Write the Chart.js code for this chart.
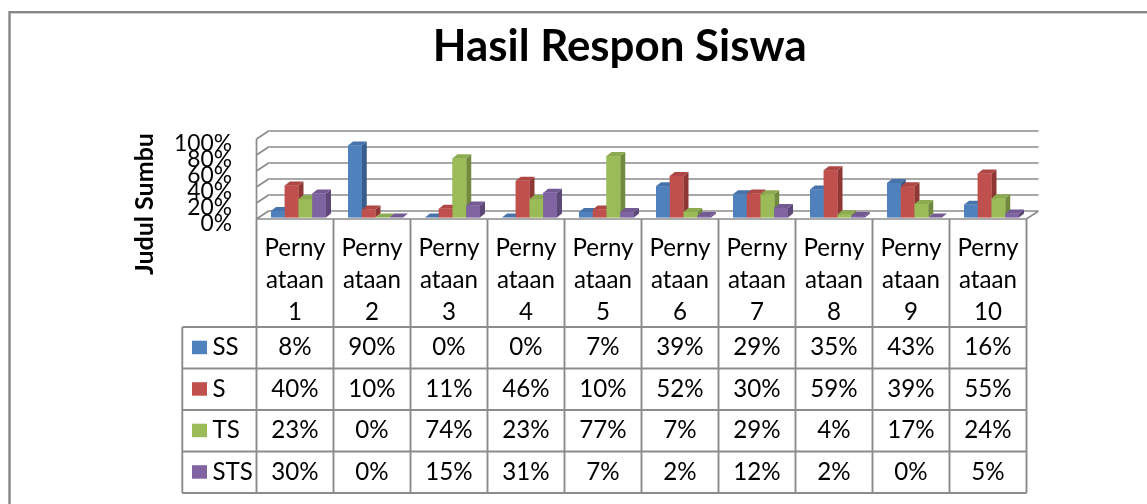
<!DOCTYPE html>
<html><head><meta charset="utf-8">
<script src="https://cdn.jsdelivr.net/npm/chart.js@4.4.1/dist/chart.umd.min.js"></script>
<style>html,body{margin:0;padding:0;background:#fff;overflow:hidden}canvas{display:block}</style>
</head><body>
<canvas id="c" width="1147" height="504"></canvas>
<script>
// ---- data ----
const categories = ['Pernyataan 1','Pernyataan 2','Pernyataan 3','Pernyataan 4','Pernyataan 5',
                    'Pernyataan 6','Pernyataan 7','Pernyataan 8','Pernyataan 9','Pernyataan 10'];
const seriesNames = ['SS','S','TS','STS'];
const ssValues  = [8, 90, 0, 0, 7, 39, 29, 35, 43, 16];
const sValues   = [40, 10, 11, 46, 10, 52, 30, 59, 39, 55];
const tsValues  = [23, 0, 74, 23, 77, 7, 29, 4, 17, 24];
const stsValues = [30, 0, 15, 31, 7, 2, 12, 2, 0, 5];
const yTicks = [0, 20, 40, 60, 80, 100];
const chartTitle = 'Hasil Respon Siswa';
const axisTitle = 'Judul Sumbu';

// ---- styles ----
const seriesValues = [ssValues, sValues, tsValues, stsValues];
const frontColors = ['#4F81BD', '#C0504D', '#9BBB59', '#8064A2'];
const sideColors  = ['#375E8D', '#8E3735', '#718A3E', '#5D4878'];
const topColors   = ['#4773AA', '#AE4744', '#8CAA4F', '#735A93'];
const FAMILY = 'Lato, "Open Sans", "DejaVu Sans", sans-serif';
const GRID = '#8c8c8c';
const FRONT = {dx: -3.5, dy: 1.5};   // front plane offset from bar plane
const BACK  = {dx: 8.5, dy: -6.5};   // back wall offset from bar plane
const DEPTH = {dx: 5, dy: -4};       // bar depth

const mctx = document.createElement('canvas').getContext('2d');
function fit(text, weight, target) {
  mctx.font = weight + ' 100px ' + FAMILY;
  return 100 * target / mctx.measureText(text).width;
}
const titleSize = fit(chartTitle, 'bold', 374);
const axisTitleSize = fit(axisTitle, 'bold', 142);
const tickSize = fit('100%', 'normal', 58);
const tableSize = fit('Perny', 'normal', 61);

function headerLines(label) {
  const [word, num] = label.split(' ');
  return [word.slice(0, 5), word.slice(5), num];
}

const threeD = {
  id: 'threeD',
  beforeDraw(chart) {
    const ctx = chart.ctx;
    ctx.save();
    ctx.fillStyle = '#fff';
    ctx.fillRect(0, 0, chart.width, chart.height);
    ctx.strokeStyle = '#878787';
    ctx.lineWidth = 2.4;
    ctx.strokeRect(9.5, 12.2, 1300, 700);
    ctx.restore();
  },
  beforeDatasetsDraw(chart) {
    const ctx = chart.ctx, ys = chart.scales.y, a = chart.chartArea;
    ctx.save();
    ctx.strokeStyle = GRID;
    ctx.lineWidth = 1.7;
    ctx.beginPath();
    ys.ticks.forEach(t => {
      const p = ys.getPixelForValue(t.value);
      const yb = p + BACK.dy, yf = p + FRONT.dy;
      ctx.moveTo(a.left + BACK.dx, yb); ctx.lineTo(a.right + BACK.dx, yb);
      ctx.moveTo(a.left + FRONT.dx, yf); ctx.lineTo(a.left + BACK.dx, yb);
    });
    const y0 = ys.getPixelForValue(0), y100 = ys.getPixelForValue(100);
    ctx.moveTo(a.left + FRONT.dx, y100 + FRONT.dy); ctx.lineTo(a.left + FRONT.dx, y0 + FRONT.dy);
    ctx.moveTo(a.left + FRONT.dx, y0 + FRONT.dy); ctx.lineTo(a.right + FRONT.dx, y0 + FRONT.dy);
    ctx.lineTo(a.right + BACK.dx, y0 + BACK.dy);
    ctx.stroke();
    ctx.restore();
  },
  afterDatasetsDraw(chart) {
    const ctx = chart.ctx;
    ctx.save();
    for (let c = 0; c < categories.length; c++) {
      for (let d = 0; d < seriesNames.length; d++) {
        const el = chart.getDatasetMeta(d).data[c];
        const {x, y, base, width} = el.getProps(['x', 'y', 'base', 'width'], true);
        const l = x - width / 2, r = x + width / 2;
        // side
        ctx.fillStyle = sideColors[d];
        ctx.beginPath();
        ctx.moveTo(r, base); ctx.lineTo(r + DEPTH.dx, base + DEPTH.dy);
        ctx.lineTo(r + DEPTH.dx, y + DEPTH.dy); ctx.lineTo(r, y); ctx.closePath();
        ctx.fill();
        // top
        ctx.fillStyle = topColors[d];
        ctx.beginPath();
        ctx.moveTo(l, y); ctx.lineTo(l + DEPTH.dx, y + DEPTH.dy);
        ctx.lineTo(r + DEPTH.dx, y + DEPTH.dy); ctx.lineTo(r, y); ctx.closePath();
        ctx.fill();
        // front
        ctx.fillStyle = frontColors[d];
        ctx.fillRect(l, y, width, base - y);
      }
    }
    ctx.restore();
  },
  afterDraw(chart) {
    const ctx = chart.ctx, xs = chart.scales.x, ys = chart.scales.y;
    ctx.save();
    // main title
    ctx.fillStyle = '#000';
    ctx.font = 'bold ' + titleSize + 'px ' + FAMILY;
    ctx.textAlign = 'center';
    ctx.textBaseline = 'alphabetic';
    ctx.fillText(chartTitle, 619.7, 61);
    // axis title
    ctx.save();
    ctx.translate(153, 204);
    ctx.rotate(-Math.PI / 2);
    ctx.font = 'bold ' + axisTitleSize + 'px ' + FAMILY;
    ctx.fillText(axisTitle, 0, 0);
    ctx.restore();

    // data table
    const n = categories.length;
    const colW = xs.width / n;
    const edge = k => xs.getPixelForValue(0) - colW / 2 + FRONT.dx + k * colW;
    const tableTop = ys.getPixelForValue(0) + FRONT.dy;
    const headerBottom = 327;
    const rowH = 41.5;
    const tableLeft = 182.3;
    const tableBottom = headerBottom + rowH * seriesNames.length;
    ctx.strokeStyle = GRID;
    ctx.lineWidth = 1.9;
    ctx.beginPath();
    for (let k = 0; k <= n; k++) {
      ctx.moveTo(edge(k), tableTop); ctx.lineTo(edge(k), tableBottom);
    }
    for (let r = 0; r <= seriesNames.length; r++) {
      const yy = headerBottom + r * rowH;
      ctx.moveTo(tableLeft, yy); ctx.lineTo(edge(n), yy);
    }
    ctx.moveTo(tableLeft, headerBottom); ctx.lineTo(tableLeft, tableBottom);
    ctx.stroke();

    ctx.fillStyle = '#000';
    ctx.font = tableSize + 'px ' + FAMILY;
    ctx.textAlign = 'center';
    const headerBase = [256, 288, 320];
    categories.forEach((lab, i) => {
      const cx = xs.getPixelForValue(i) + FRONT.dx;
      headerLines(lab).forEach((t, j) => ctx.fillText(t, cx, headerBase[j]));
    });
    seriesNames.forEach((name, d) => {
      const top = headerBottom + d * rowH;
      const base = top + 28;
      seriesValues[d].forEach((v, i) => {
        ctx.fillText(v + '%', xs.getPixelForValue(i) + FRONT.dx, base);
      });
      ctx.fillStyle = frontColors[d];
      ctx.fillRect(192, top + 13.7, 15, 13.5);
      ctx.fillStyle = '#000';
      ctx.textAlign = 'left';
      ctx.fillText(name, 212.5, base);
      ctx.textAlign = 'center';
    });
    ctx.restore();
  }
};

new Chart(document.getElementById('c'), {
  type: 'bar',
  data: {
    labels: categories,
    datasets: seriesNames.map((name, i) => ({
      label: name,
      data: seriesValues[i],
      backgroundColor: frontColors[i],
      borderWidth: 0
    }))
  },
  options: {
    responsive: false,
    animation: false,
    devicePixelRatio: 1,
    layout: {padding: {left: 120, right: 117, top: 137.5, bottom: 286.5}},
    datasets: {bar: {categoryPercentage: 0.714, barPercentage: 1}},
    plugins: {legend: {display: false}, tooltip: {enabled: false}, title: {display: false}},
    scales: {
      x: {display: false},
      y: {
        min: 0, max: 100,
        afterFit(s) { s.width = 140; },
        afterBuildTicks(s) { s.ticks = yTicks.map(v => ({value: v})); },
        grid: {display: false, drawTicks: false},
        border: {display: false},
        ticks: {
          autoSkip: false, padding: 28, labelOffset: 6, color: '#000',
          font: {family: FAMILY, size: tickSize},
          callback: v => v + '%'
        }
      }
    }
  },
  plugins: [threeD]
});
</script>
</body></html>
